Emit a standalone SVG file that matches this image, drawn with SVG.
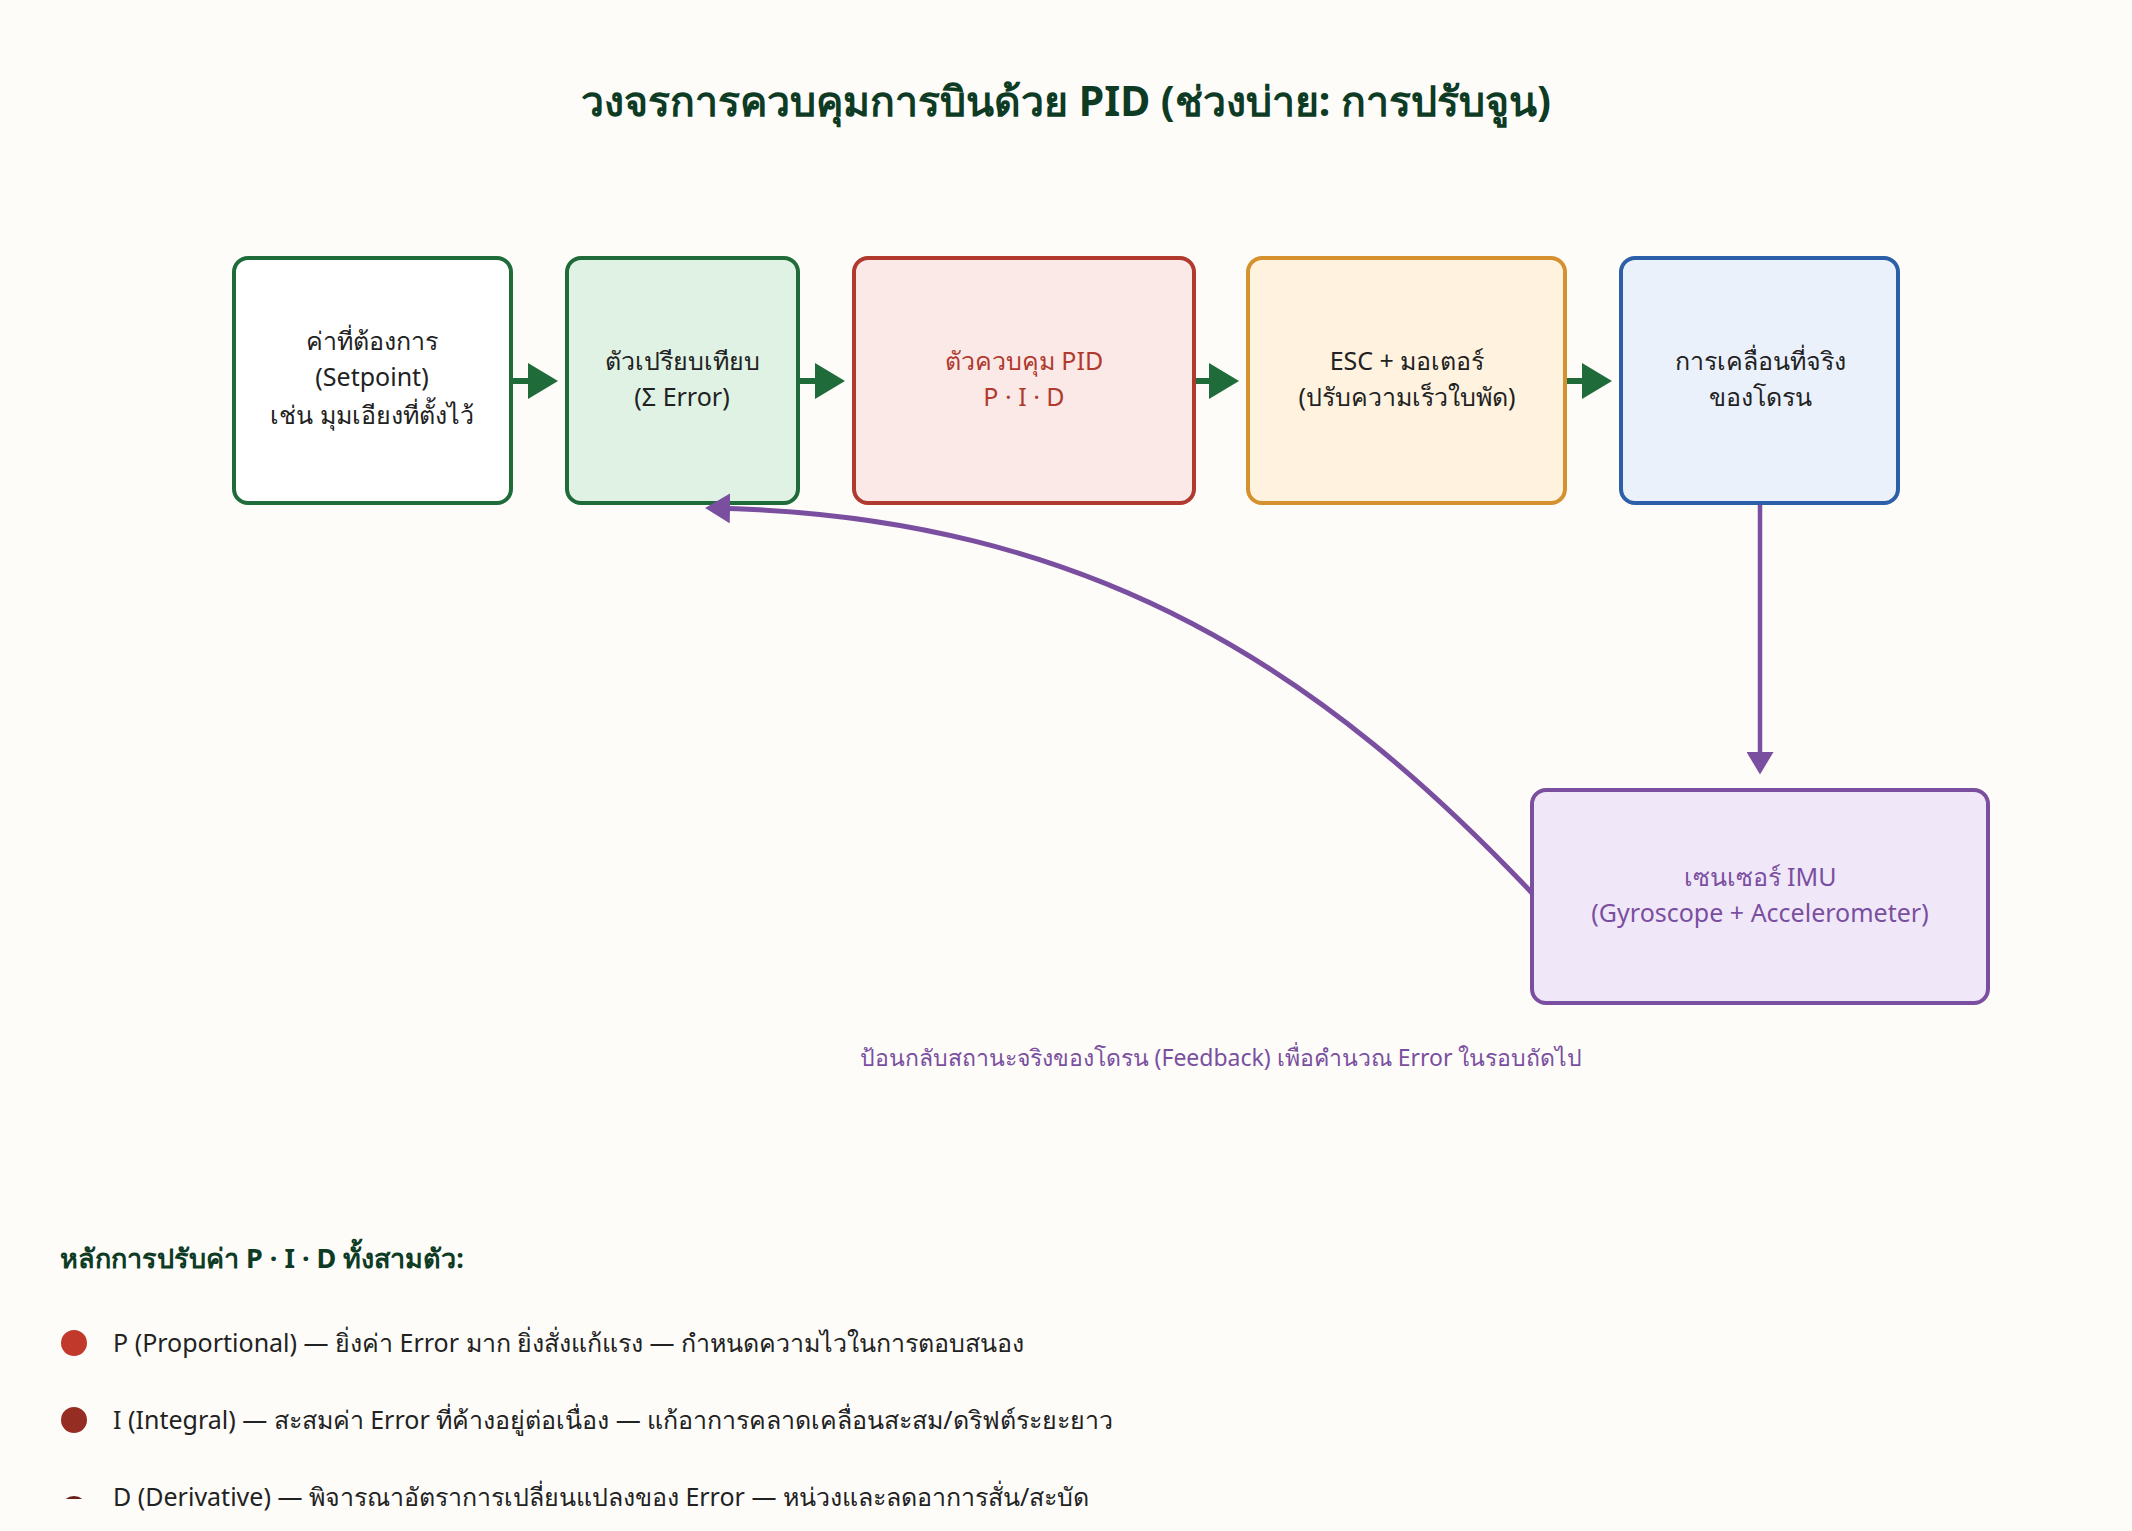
<svg xmlns="http://www.w3.org/2000/svg" width="2132" height="1531" viewBox="0 0 2132 1531">
<style>
text{font-family:"Noto Sans","DejaVu Sans",sans-serif;}
.lbl{font-size:25px;text-anchor:middle;fill:#222;}
.box{stroke-width:4;}
.leg{font-size:25px;fill:#222;}
</style>
<defs>
<marker id="ag" markerWidth="6" markerHeight="6" refX="4" refY="3" orient="auto" markerUnits="strokeWidth"><path d="M0,0 L5,3 L0,6 z" fill="#1f6b3a"/></marker>
<marker id="ap" markerWidth="6" markerHeight="6" refX="4" refY="3" orient="auto" markerUnits="strokeWidth"><path d="M0,0 L5,3 L0,6 z" fill="#7a4fa0"/></marker>
<clipPath id="cd"><rect x="0" y="0" width="2132" height="1499"/></clipPath>
</defs>
<rect width="2132" height="1531" fill="#fdfcf9"/>
<text x="1066" y="116" font-size="41" font-weight="bold" text-anchor="middle" fill="#0d3b24">วงจรการควบคุมการบินด้วย PID (ช่วงบ่าย: การปรับจูน)</text>
<g id="setpoint"><rect class="box" x="234" y="258" width="277" height="245" rx="14" fill="#ffffff" stroke="#1f6b3a"/>
<text class="lbl" x="372" y="350">ค่าที่ต้องการ</text><text class="lbl" x="372" y="386">(Setpoint)</text><text class="lbl" x="372" y="424">เช่น มุมเอียงที่ตั้งไว้</text></g>
<g id="comparator"><rect class="box" x="567" y="258" width="231" height="245" rx="14" fill="#dff2e3" stroke="#1f6b3a"/>
<text class="lbl" x="682" y="370">ตัวเปรียบเทียบ</text><text class="lbl" x="682" y="406">(Σ Error)</text></g>
<g id="pid"><rect class="box" x="854" y="258" width="340" height="245" rx="14" fill="#fbe9e8" stroke="#b03a2e"/>
<text class="lbl" x="1024" y="370" fill="#b03a2e" style="fill:#b03a2e">ตัวควบคุม PID</text><text class="lbl" x="1024" y="406" style="fill:#b03a2e">P · I · D</text></g>
<g id="esc"><rect class="box" x="1248" y="258" width="317" height="245" rx="14" fill="#fff3e0" stroke="#d4912e"/>
<text class="lbl" x="1407" y="370">ESC + มอเตอร์</text><text class="lbl" x="1407" y="406">(ปรับความเร็วใบพัด)</text></g>
<g id="motion"><rect class="box" x="1621" y="258" width="277" height="245" rx="14" fill="#eaf1fb" stroke="#2c5fa8"/>
<text class="lbl" x="1760" y="370">การเคลื่อนที่จริง</text><text class="lbl" x="1760" y="406">ของโดรน</text></g>
<g id="imu"><rect class="box" x="1532" y="790" width="456" height="213" rx="14" fill="#f0e8f8" stroke="#7a4fa0"/>
<text class="lbl" x="1760" y="886" style="fill:#7a4fa0">เซนเซอร์ IMU</text><text class="lbl" x="1760" y="922" style="fill:#7a4fa0">(Gyroscope + Accelerometer)</text></g>
<g id="connectors" fill="none">
<line x1="513" y1="381" x2="552" y2="381" stroke="#1f6b3a" stroke-width="6" marker-end="url(#ag)"/>
<line x1="800" y1="381" x2="839" y2="381" stroke="#1f6b3a" stroke-width="6" marker-end="url(#ag)"/>
<line x1="1196" y1="381" x2="1233" y2="381" stroke="#1f6b3a" stroke-width="6" marker-end="url(#ag)"/>
<line x1="1567" y1="381" x2="1606" y2="381" stroke="#1f6b3a" stroke-width="6" marker-end="url(#ag)"/>
<line x1="1760" y1="505" x2="1760" y2="770" stroke="#7a4fa0" stroke-width="4.5" marker-end="url(#ap)"/>
<path d="M1532,893 C1330,680 1100,515 710,508" stroke="#7a4fa0" stroke-width="5" marker-end="url(#ap)"/>
</g>
<text x="1221" y="1066" font-size="23" text-anchor="middle" fill="#7a4fa0">ป้อนกลับสถานะจริงของโดรน (Feedback) เพื่อคำนวณ Error ในรอบถัดไป</text>
<text x="60" y="1268" font-size="27" font-weight="bold" fill="#0d3b24">หลักการปรับค่า P · I · D ทั้งสามตัว:</text>
<circle cx="74" cy="1343" r="13" fill="#c0392b"/>
<text class="leg" x="113" y="1352">P (Proportional) — ยิ่งค่า Error มาก ยิ่งสั่งแก้แรง — กำหนดความไวในการตอบสนอง</text>
<circle cx="74" cy="1420" r="13" fill="#962d22"/>
<text class="leg" x="113" y="1429">I (Integral) — สะสมค่า Error ที่ค้างอยู่ต่อเนื่อง — แก้อาการคลาดเคลื่อนสะสม/ดริฟต์ระยะยาว</text>
<circle cx="74" cy="1509" r="13" fill="#6b1f1a" clip-path="url(#cd)"/>
<text class="leg" x="113" y="1506">D (Derivative) — พิจารณาอัตราการเปลี่ยนแปลงของ Error — หน่วงและลดอาการสั่น/สะบัด</text>
</svg>
